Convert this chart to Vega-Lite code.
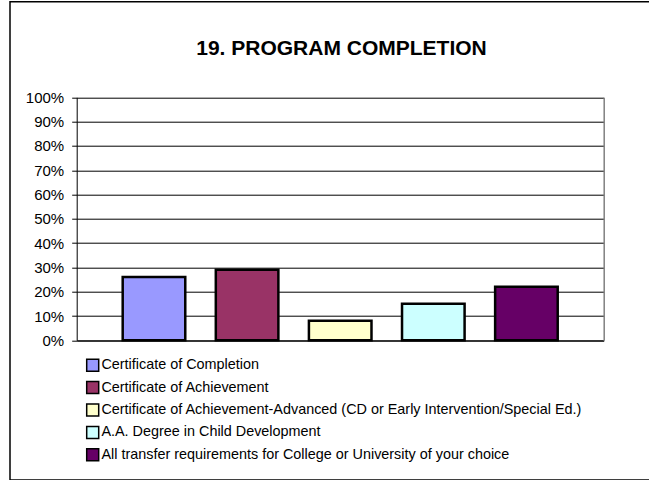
{
  "$schema": "https://vega.github.io/schema/vega-lite/v6.json",
  "autosize": {"type": "none"},
  "padding": {"left": 10, "top": 1.7, "right": 0, "bottom": 0},
  "width": 641,
  "height": 478.3,
  "background": "white",
  "config": {
    "view": {"stroke": "#000000", "strokeWidth": 1.5},
    "font": "Liberation Sans"
  },
  "title": {
    "text": "19. PROGRAM COMPLETION",
    "font": "Liberation Sans",
    "fontSize": 21,
    "fontWeight": "bold",
    "color": "#000000",
    "anchor": "middle",
    "frame": "group",
    "baseline": "alphabetic",
    "offset": -74,
    "dx": 11
  },
  "data": {
    "values": [
      {"program": "Certificate of Completion", "percent": 0.26},
      {"program": "Certificate of Achievement", "percent": 0.29},
      {"program": "Certificate of Achievement-Advanced (CD or Early Intervention/Special Ed.)", "percent": 0.08},
      {"program": "A.A. Degree in Child Development", "percent": 0.15},
      {"program": "All transfer requirements for College or University of your choice", "percent": 0.22}
    ]
  },
  "layer": [
    {
      "mark": {"type": "bar", "stroke": "#000000", "strokeWidth": 2.5},
      "encoding": {
        "x": {
          "field": "program",
          "type": "nominal",
          "sort": null,
          "scale": {"range": [66.7, 593.7], "paddingInner": 0.328, "paddingOuter": 0.494},
          "axis": {
            "orient": "bottom",
            "offset": -139.7,
            "labels": false,
            "ticks": false,
            "grid": false,
            "title": null,
            "domainColor": "#000000",
            "domainWidth": 1
          }
        },
        "y": {
          "field": "percent",
          "type": "quantitative",
          "scale": {"domain": [0, 1], "range": [338.6, 95.6], "nice": false, "zero": true},
          "axis": {
            "orient": "left",
            "offset": -66.7,
            "values": [0, 0.1, 0.2, 0.3, 0.4, 0.5, 0.6, 0.7, 0.8, 0.9, 1],
            "format": ".0%",
            "title": null,
            "labelFont": "Liberation Sans",
            "labelFontSize": 15,
            "labelColor": "#000000",
            "labelPadding": 8,
            "tickSize": 5,
            "tickColor": "#000000",
            "tickWidth": 1,
            "domainColor": "#000000",
            "domainWidth": 1,
            "grid": true,
            "gridColor": "#000000",
            "gridWidth": 1,
            "gridOpacity": 1
          }
        },
        "color": {
          "field": "program",
          "type": "nominal",
          "scale": {
            "domain": [
              "Certificate of Completion",
              "Certificate of Achievement",
              "Certificate of Achievement-Advanced (CD or Early Intervention/Special Ed.)",
              "A.A. Degree in Child Development",
              "All transfer requirements for College or University of your choice"
            ],
            "range": ["#9999FF", "#993366", "#FFFFCC", "#CCFFFF", "#660066"]
          },
          "legend": {
            "orient": "none",
            "legendX": 75.5,
            "legendY": 356.3,
            "title": null,
            "padding": 0,
            "symbolType": "square",
            "symbolSize": 144,
            "symbolStrokeColor": "#000000",
            "symbolStrokeWidth": 1.5,
            "symbolOpacity": 1,
            "labelFont": "Liberation Sans",
            "labelFontSize": 14.4,
            "labelColor": "#000000",
            "labelLimit": 0,
            "labelOffset": 1.5,
            "rowPadding": 3.4,
            "columns": 1
          }
        }
      }
    },
    {
      "mark": {"type": "bar", "opacity": 0},
      "encoding": {
        "x": {"field": "program", "type": "nominal", "sort": null},
        "y": {
          "field": "percent",
          "type": "quantitative",
          "axis": {
            "orient": "right",
            "offset": -47.3,
            "labels": false,
            "ticks": false,
            "grid": false,
            "title": null,
            "domainColor": "#808080",
            "domainWidth": 1.5
          }
        }
      }
    }
  ],
  "resolve": {"axis": {"y": "independent"}}
}
